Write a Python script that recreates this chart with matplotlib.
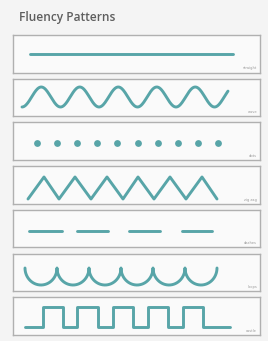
import numpy as np
import matplotlib
matplotlib.use("Agg")
import matplotlib.pyplot as plt

# ---- data (pixel positions) ----
title = "Fluency Patterns"
pattern_names = ["straight", "wave", "dots", "zig zag", "dashes", "loops", "castle"]

straight_x = [30, 233]
straight_y = 54

wave_x_range = [22, 228]
wave_center = 97
wave_amp = 10
wave_cycles = 5.35

dots_x = [37, 57, 77, 97, 117, 138, 158, 178, 198, 218]
dots_y = 143

zig_x = [28, 44, 59, 75, 91, 107, 123, 138, 154, 170, 186, 202, 217]
zig_levels = [199, 177]  # trough, peak

dash_starts = [29, 77, 129, 182]
dash_ends = [62, 108, 160, 212]
dash_y = 231

scallop_cusps = [25, 57, 89, 121, 153, 185, 217]
scallop_top = 268
scallop_bottom = 285

castle_start, castle_end = 25, 230
castle_rises = [43, 77, 113, 148, 183]
castle_falls = [63, 98, 133, 168, 203]
castle_low, castle_high = 327, 307

# ---- layout ----
W, H = 268, 341
box_left, box_right = 13, 260
box_tops = [35, 78.7, 122.4, 166.1, 209.8, 253.5, 297.2]
box_h = 37.5
teal = "#58a5a8"
lw = 2.1

fig = plt.figure(figsize=(W / 100, H / 100), dpi=100)
fig.patch.set_facecolor("#f4f4f4")

fig.text(19 / W, 1 - 18 / H, title, fontsize=8.6, color="#5e5e5e",
         ha="left", va="center", family="Open Sans", weight="semibold")

axes = []
for top in box_tops:
    ax = fig.add_axes([box_left / W, 1 - (top + box_h) / H,
                       (box_right - box_left) / W, box_h / H])
    ax.set_xlim(box_left, box_right)
    ax.set_ylim(top + box_h, top)
    ax.set_facecolor("#fafafa")
    ax.set_xticks([])
    ax.set_yticks([])
    for s in ax.spines.values():
        s.set_color("#b0b0b0")
        s.set_linewidth(1.0)
    axes.append(ax)

kw = dict(color=teal, lw=lw, solid_capstyle="round", solid_joinstyle="round")

# 1 straight
axes[0].plot(straight_x, [straight_y, straight_y], **kw)

# 2 wave
t = np.linspace(0, wave_cycles, 400)
wx = wave_x_range[0] + (wave_x_range[1] - wave_x_range[0]) * t / wave_cycles
wy = wave_center + wave_amp * np.cos(2 * np.pi * t)
axes[1].plot(wx, wy, **kw)

# 3 dots
axes[2].scatter(dots_x, [dots_y] * len(dots_x), s=24, color=teal, linewidths=0)

# 4 zig zag
zy = [zig_levels[i % 2] for i in range(len(zig_x))]
axes[3].plot(zig_x, zy, **kw)

# 5 dashes
for a, b in zip(dash_starts, dash_ends):
    axes[4].plot([a, b], [dash_y, dash_y], **kw)

# 6 scallops
sx, sy = [], []
for a, b in zip(scallop_cusps[:-1], scallop_cusps[1:]):
    th = np.linspace(np.pi, 2 * np.pi, 60)
    cx, rx = (a + b) / 2, (b - a) / 2
    sx.extend(cx + rx * np.cos(th))
    sy.extend(scallop_top - (scallop_bottom - scallop_top) * np.sin(th))
axes[5].plot(sx, sy, **kw)

# 7 castle
cx_pts, cy_pts = [castle_start], [castle_low]
for r, f in zip(castle_rises, castle_falls):
    cx_pts += [r, r, f, f]
    cy_pts += [castle_low, castle_high, castle_high, castle_low]
cx_pts.append(castle_end)
cy_pts.append(castle_low)
axes[6].plot(cx_pts, cy_pts, **kw)

# labels
for ax, top, name in zip(axes, box_tops, pattern_names):
    ax.text(257, top + box_h - 4, name, fontsize=2.6, color="#9a9a9a",
            ha="right", va="center")

fig.savefig("out.png", dpi=100, facecolor=fig.get_facecolor())
